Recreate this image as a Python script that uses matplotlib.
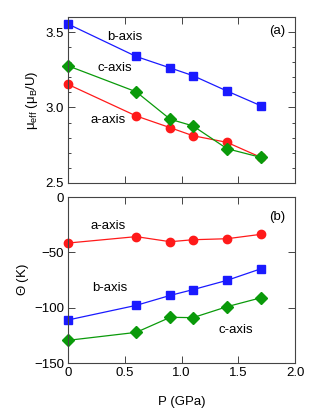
import numpy as np
import matplotlib
matplotlib.use('Agg')
import matplotlib.pyplot as plt

plt.rcParams['font.family'] = ['Liberation Sans', 'DejaVu Sans']
plt.rcParams['mathtext.fontset'] = 'custom'
plt.rcParams['mathtext.rm'] = 'Liberation Sans'
plt.rcParams['mathtext.it'] = 'Liberation Sans'

# presion (GPa)
pressure = [0, 0.6, 0.9, 1.1, 1.4, 1.7]

# momento efectivo
mu_a = [3.153, 2.944, 2.866, 2.813, 2.769, 2.669]
mu_b = [3.553, 3.338, 3.262, 3.211, 3.109, 3.011]
mu_c = [3.276, 3.104, 2.922, 2.878, 2.727, 2.669]

# temperatura de Weiss (K)
theta_a = [-41.6, -35.8, -40.4, -38.6, -37.7, -33.7]
theta_b = [-111.1, -97.9, -88.9, -83.7, -75.3, -64.8]
theta_c = [-129.5, -122.3, -108.7, -109.0, -99.1, -91.0]

red = '#ff1a1a'
blue = '#1a1aff'
green = '#0a9a0a'
fs = 9.5

fig = plt.figure(figsize=(3.32, 4.13), dpi=100)
ax1 = fig.add_axes([0.205, 0.557, 0.684, 0.402])
ax2 = fig.add_axes([0.205, 0.121, 0.684, 0.402])

def estilo(ax):
    for s in ax.spines.values():
        s.set_color('#444444')
        s.set_linewidth(0.8)
    ax.tick_params(which='both', direction='in', top=True, right=True,
                   color='#444444', labelsize=fs, pad=3)
    ax.tick_params(which='major', length=5, width=0.7)
    ax.tick_params(which='minor', length=2.5, width=0.7)
    ax.set_xlim(0, 2.0)
    ax.set_xticks([0, 0.5, 1.0, 1.5, 2.0])

# Panel (a)
estilo(ax1)
ax1.plot(pressure, mu_a, '-o', color=red, lw=0.9, ms=6, mec=red, clip_on=False)
ax1.plot(pressure, mu_c, '-D', color=green, lw=0.9, ms=6, mec=green, clip_on=False)
ax1.plot(pressure, mu_b, '-s', color=blue, lw=0.9, ms=6, mec=blue, clip_on=False)
ax1.set_ylim(2.5, 3.6)
ax1.set_yticks([2.5, 3.0, 3.5])
ax1.set_yticklabels(['2.5', '3.0', '3.5'])
ax1.set_yticks(np.arange(2.6, 3.6, 0.1), minor=True)
ax1.set_xticklabels([])
ax1.set_ylabel(r'$\mu_{\mathrm{eff}}$ ($\mu_{\mathrm{B}}$/U)', fontsize=fs, labelpad=4)
ax1.text(0.5, 3.47, 'b-axis', fontsize=fs, ha='center', va='center')
ax1.text(0.41, 3.26, 'c-axis', fontsize=fs, ha='center', va='center')
ax1.text(0.35, 2.92, 'a-axis', fontsize=fs, ha='center', va='center')
ax1.text(1.84, 3.51, '(a)', fontsize=fs, ha='center', va='center')

# Panel (b)
estilo(ax2)
ax2.plot(pressure, theta_a, '-o', color=red, lw=0.9, ms=6, mec=red, clip_on=False)
ax2.plot(pressure, theta_b, '-s', color=blue, lw=0.9, ms=6, mec=blue, clip_on=False)
ax2.plot(pressure, theta_c, '-D', color=green, lw=0.9, ms=6, mec=green, clip_on=False)
ax2.set_ylim(-150, 0)
ax2.set_yticks([-150, -100, -50, 0])
ax2.set_xticklabels(['0', '0.5', '1.0', '1.5', '2.0'])
ax2.set_ylabel(r'$\Theta$ (K)', fontsize=fs, labelpad=2)
ax2.set_xlabel('P (GPa)', fontsize=fs, labelpad=12)
ax2.text(0.35, -26.5, 'a-axis', fontsize=fs, ha='center', va='center')
ax2.text(0.37, -82, 'b-axis', fontsize=fs, ha='center', va='center')
ax2.text(1.48, -120, 'c-axis', fontsize=fs, ha='center', va='center')
ax2.text(1.84, -18, '(b)', fontsize=fs, ha='center', va='center')

fig.savefig('out.png', dpi=100)
